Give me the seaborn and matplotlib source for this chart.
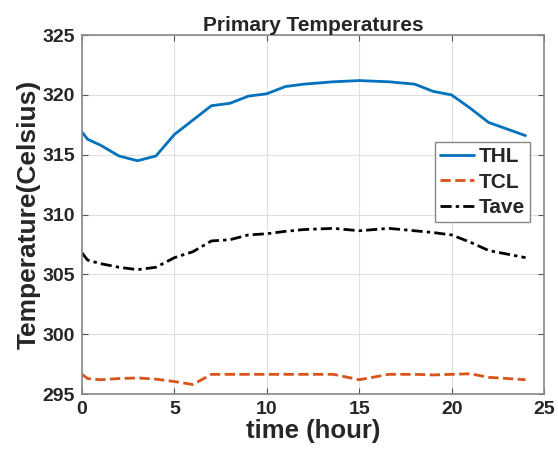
import pandas as pd
import matplotlib.pyplot as plt
import seaborn as sns

# Values
time_hour = [0, 0.3, 1, 2, 3, 4, 5, 6, 7, 8, 9, 10, 11, 12, 13.6, 15, 16.6, 18, 19, 20, 21, 22, 24]
thl = [316.9, 316.3, 315.8, 314.9, 314.5, 314.9, 316.7, 317.9, 319.1, 319.3, 319.9, 320.1,
       320.7, 320.9, 321.1, 321.2, 321.1, 320.9, 320.3, 320.0, 318.9, 317.7, 316.6]
tcl = [296.65, 296.3, 296.2, 296.3, 296.35, 296.25, 296.05, 295.8, 296.65, 296.65, 296.65, 296.65,
       296.65, 296.65, 296.65, 296.2, 296.65, 296.65, 296.6, 296.65, 296.7, 296.4, 296.2]
tave = [306.8, 306.2, 305.9, 305.6, 305.4, 305.6, 306.4, 306.9, 307.8, 307.9, 308.3, 308.4,
        308.6, 308.75, 308.85, 308.65, 308.85, 308.65, 308.5, 308.3, 307.7, 307.0, 306.4]
x_ticks = [0, 5, 10, 15, 20, 25]
y_ticks = [295, 300, 305, 310, 315, 320, 325]

df = pd.DataFrame({"time": time_hour, "THL": thl, "TCL": tcl, "Tave": tave})

sns.set_style("whitegrid")
plt.rcParams["font.family"] = ["Liberation Sans", "DejaVu Sans"]
plt.rcParams["font.weight"] = "bold"

fig, ax = plt.subplots(figsize=(5.58, 4.62), dpi=100)
fig.subplots_adjust(left=0.147, right=0.975, bottom=0.147, top=0.924)

sns.lineplot(data=df, x="time", y="THL", ax=ax, color="#0072BD", lw=2, label="THL")
sns.lineplot(data=df, x="time", y="TCL", ax=ax, color="#D95319", lw=2, ls="--", label="TCL")
sns.lineplot(data=df, x="time", y="Tave", ax=ax, color="black", lw=2,
             dashes=(4, 1.5, 1.2, 1.5), label="Tave")

ax.set_xlim(0, 25)
ax.set_ylim(295, 325)
ax.set_xticks(x_ticks)
ax.set_yticks(y_ticks)
ax.tick_params(axis="both", labelsize=14, direction="in", length=4, width=0.8,
               color="#555555", top=True, right=True, bottom=True, left=True, pad=5)
for lab in ax.get_xticklabels() + ax.get_yticklabels():
    lab.set_fontweight("bold")

ax.grid(True, color="#e0e0e0", lw=0.8)
for sp in ax.spines.values():
    sp.set_visible(True)
    sp.set_color("#888888")
    sp.set_linewidth(1.2)

ax.set_title("Primary Temperatures", fontsize=15, fontweight="bold", pad=3)
ax.set_xlabel("time (hour)", fontsize=18.5, fontweight="bold", labelpad=1)
ax.set_ylabel("Temperature(Celsius)", fontsize=19, fontweight="bold", labelpad=1)

leg = ax.legend(loc="upper left", bbox_to_anchor=(0.764, 0.702), fontsize=15,
                handlelength=1.6, handletextpad=0.25, borderpad=0.25, labelspacing=0.3,
                borderaxespad=0, fancybox=False, framealpha=1, edgecolor="#888888")
for t in leg.get_texts():
    t.set_fontweight("bold")

plt.savefig("out.png", dpi=100)
